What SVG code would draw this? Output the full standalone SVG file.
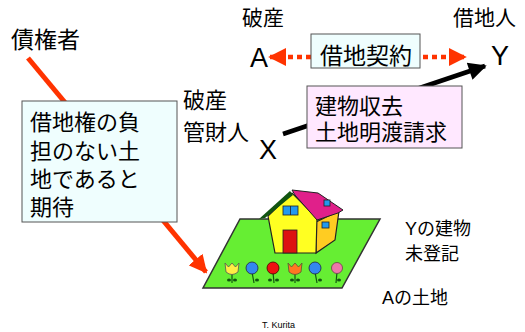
<svg xmlns="http://www.w3.org/2000/svg" width="525" height="332" viewBox="0 0 525 332">
  <style>
    .jp { font-family: "Liberation Sans", "Noto Sans CJK JP", sans-serif; fill: #000; }
    .lbl { font-size: 21px; }
    .box { font-size: 22px; }
    .note { font-size: 18px; }
    .party { font-family: "Liberation Sans", sans-serif; font-size: 27px; fill: #000; }
    .cyan { fill: #effefe; stroke: #555; stroke-width: 1; }
    .pink { fill: #ffe8ff; stroke: #555; stroke-width: 1; }
  </style>
  <defs>
    <marker id="redHead" viewBox="0 0 10 10" refX="9" refY="5" markerWidth="4" markerHeight="4" orient="auto-start-reverse" markerUnits="strokeWidth">
      <path d="M0,0 L10,5 L0,10 Z" fill="#ff3300"/>
    </marker>
    <marker id="redHeadBig" viewBox="0 0 10 10" refX="9" refY="5" markerWidth="3.6" markerHeight="3.6" orient="auto" markerUnits="strokeWidth">
      <path d="M0,0 L10,5 L0,10 Z" fill="#ff3300"/>
    </marker>
    <marker id="blackHead" viewBox="0 0 10 10" refX="9" refY="5" markerWidth="4.4" markerHeight="4" orient="auto" markerUnits="strokeWidth">
      <path d="M0,0 L10,5 L0,10 Z" fill="#000"/>
    </marker>
  </defs>

  <!-- connectors -->
  <g id="connectors">
    <line x1="28" y1="58" x2="206" y2="272" stroke="#ff3300" stroke-width="5" marker-end="url(#redHeadBig)"/>
    <line x1="270" y1="57" x2="465" y2="57" stroke="#ff3300" stroke-width="4.5" stroke-dasharray="5 4" marker-start="url(#redHead)" marker-end="url(#redHead)"/>
    <line x1="283" y1="134" x2="485" y2="66" stroke="#000" stroke-width="4.5" marker-end="url(#blackHead)"/>
  </g>

  <!-- creditor -->
  <g id="creditor">
    <text class="jp lbl" x="11" y="48" style="font-size:23px">債権者</text>
  </g>

  <!-- expectation box -->
  <g id="expectation">
    <rect class="cyan" x="22" y="101" width="155" height="121"/>
    <text class="jp box" x="30" y="130">借地権の負</text>
    <text class="jp box" x="30" y="159">担のない土</text>
    <text class="jp box" x="30" y="187">地であると</text>
    <text class="jp box" x="30" y="215">期待</text>
  </g>

  <!-- bankrupt landowner A -->
  <g id="nodeA">
    <text class="jp lbl" x="242" y="25">破産</text>
    <text class="party" x="250" y="67">A</text>
  </g>

  <!-- lessee Y -->
  <g id="nodeY">
    <text class="jp lbl" x="453" y="25">借地人</text>
    <text class="party" x="491" y="65">Y</text>
  </g>

  <!-- lease contract -->
  <g id="lease">
    <rect class="cyan" x="311" y="34" width="109" height="34"/>
    <text class="jp box" x="320" y="64" style="font-size:23px">借地契約</text>
  </g>

  <!-- trustee X -->
  <g id="nodeX">
    <text class="jp box" x="183" y="108">破産</text>
    <text class="jp box" x="183" y="140">管財人</text>
    <text class="party" x="259" y="159">X</text>
  </g>

  <!-- claim box -->
  <g id="claim">
    <rect class="pink" x="307" y="86" width="155" height="62"/>
    <text class="jp box" x="315" y="114">建物収去</text>
    <text class="jp box" x="315" y="140">土地明渡請求</text>
  </g>

  <!-- land and house -->
  <g id="land">
    <polygon points="240,219 380,219 342,288 203,288" fill="#66ee33" stroke="#333" stroke-width="1.5"/>
    <!-- side wall -->
    <polygon points="316,222 339,211 335,240 316,253" fill="#ffcc22" stroke="#222" stroke-width="1.2"/>
    <!-- front gable -->
    <polygon points="268,216 292,193 317,218 316,253 275,253" fill="#ffff22" stroke="#222" stroke-width="1.2"/>
    <!-- roof -->
    <polygon points="292,190 318,193 343,210 338,213 317,220 295,195" fill="#e0208a" stroke="#222" stroke-width="1"/>
    <polygon points="259,219 290,191 293,195 265,218" fill="#115511"/>
    <!-- windows and door -->
    <rect x="283" y="206" width="15" height="9" fill="#2299ee" stroke="#222" stroke-width="0.8"/>
    <line x1="290.5" y1="206" x2="290.5" y2="215" stroke="#222" stroke-width="0.8"/>
    <rect x="322" y="222" width="7" height="6" fill="#2299ee" stroke="#222" stroke-width="0.8"/>
    <rect x="324" y="200" width="6" height="6" fill="#2299ee" stroke="#222" stroke-width="0.8"/>
    <rect x="283" y="230" width="14" height="23" fill="#dd1111" stroke="#222" stroke-width="0.8"/>
    <!-- flowers -->
    <g stroke-width="1.2" stroke="#115511">
      <line x1="232" y1="272" x2="232" y2="283"/>
      <line x1="252" y1="272" x2="254" y2="283"/>
      <line x1="273" y1="272" x2="274" y2="283"/>
      <line x1="295" y1="272" x2="295" y2="283"/>
      <line x1="315" y1="272" x2="317" y2="283"/>
      <line x1="337" y1="272" x2="336" y2="283"/>
    </g>
    <g fill="#115511">
      <ellipse cx="229" cy="280" rx="2" ry="1.5"/><ellipse cx="235" cy="280" rx="2" ry="1.5"/>
      <ellipse cx="257" cy="280" rx="2" ry="1.5"/>
      <ellipse cx="270" cy="280" rx="2" ry="1.5"/><ellipse cx="277" cy="280" rx="2" ry="1.5"/>
      <ellipse cx="292" cy="280" rx="2" ry="1.5"/><ellipse cx="298" cy="280" rx="2" ry="1.5"/>
      <ellipse cx="320" cy="280" rx="2" ry="1.5"/>
      <ellipse cx="339" cy="280" rx="2" ry="1.5"/>
    </g>
    <path d="M225,263 L228.5,267 L232,263 L235.5,267 L239,263 L238,272 Q232,277 226,272 Z" fill="#ffee44" stroke="#555" stroke-width="0.8"/>
    <circle cx="252" cy="268" r="6" fill="#3388ee" stroke="#224" stroke-width="0.8"/>
    <circle cx="273" cy="268" r="6" fill="#ee1111" stroke="#400" stroke-width="0.8"/>
    <path d="M288,263 L291.5,267 L295,263 L298.5,267 L302,263 L301,272 Q295,277 289,272 Z" fill="#ff7722" stroke="#553" stroke-width="0.8"/>
    <circle cx="315" cy="268" r="6" fill="#3388ee" stroke="#224" stroke-width="0.8"/>
    <circle cx="337" cy="268" r="5.5" fill="#ee77aa" stroke="#644" stroke-width="0.8"/>
  </g>

  <!-- notes -->
  <g id="notes">
    <text class="jp note" x="405" y="235">Yの建物</text>
    <text class="jp note" x="405" y="260">未登記</text>
    <text class="jp note" x="382" y="304">Aの土地</text>
    <text x="262" y="328" style="font-family:'Liberation Sans',sans-serif;font-size:9px;fill:#000">T. Kurita</text>
  </g>
</svg>
